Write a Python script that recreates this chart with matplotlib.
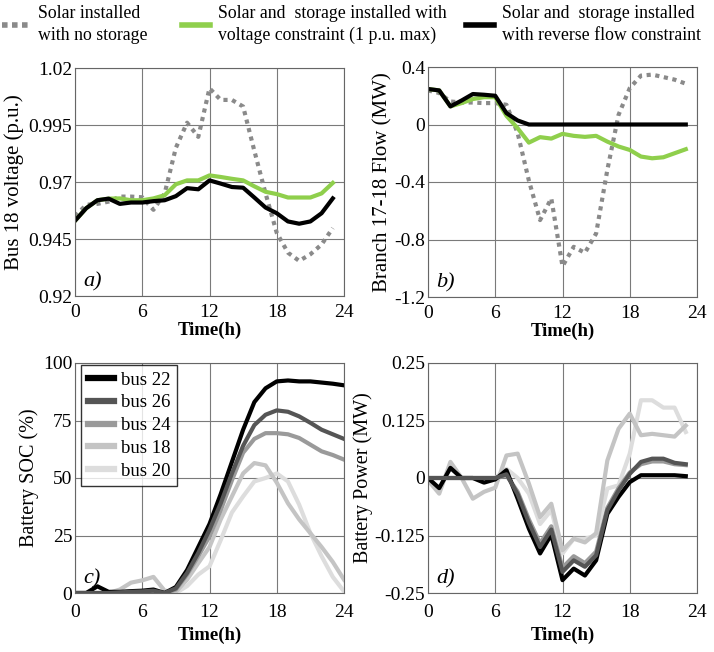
import matplotlib
matplotlib.use("Agg")
import matplotlib.pyplot as plt
from matplotlib.lines import Line2D
from matplotlib.font_manager import FontProperties

plt.rcParams['font.family'] = 'serif'
plt.rcParams['font.serif'] = ['Liberation Serif', 'DejaVu Serif']

hours = list(range(24))
hours_c = list(range(25))

# Panel a: Bus 18 voltage (p.u.)
v_nostorage = [0.955, 0.960, 0.9604, 0.9614, 0.9636, 0.9636, 0.9633, 0.9578, 0.965, 0.985, 0.996, 0.9898,
               1.0111, 1.006, 1.006, 1.0031, 0.9837, 0.965, 0.9477, 0.939, 0.9354, 0.9383, 0.9426, 0.9498]
v_voltage = [0.953, 0.9585, 0.962, 0.9627, 0.9628, 0.962, 0.962, 0.9628, 0.9642, 0.969, 0.9707, 0.9707,
             0.9729, 0.9722, 0.9714, 0.9707, 0.9681, 0.9657, 0.9647, 0.9632, 0.9632, 0.9632, 0.965, 0.9696]
v_reverse = [0.953, 0.9585, 0.962, 0.9627, 0.9604, 0.961, 0.961, 0.9616, 0.962, 0.9638, 0.9673, 0.9668,
             0.9707, 0.9693, 0.9678, 0.9675, 0.9632, 0.9588, 0.9563, 0.9527, 0.9517, 0.9527, 0.9563, 0.9628]

# Panel b: Branch 17-18 flow (MW)
f_nostorage = [0.237, 0.219, 0.16, 0.153, 0.153, 0.149, 0.149, 0.137, -0.06, -0.39, -0.665, -0.514,
               -0.986, -0.851, -0.893, -0.758, -0.316, 0.067, 0.253, 0.34, 0.347, 0.33, 0.312, 0.284]
f_voltage = [0.247, 0.237, 0.126, 0.149, 0.177, 0.19, 0.19, 0.06, -0.026, -0.126, -0.088, -0.098,
             -0.065, -0.079, -0.086, -0.079, -0.119, -0.153, -0.177, -0.223, -0.235, -0.228, -0.2, -0.172]
f_reverse = [0.247, 0.237, 0.126, 0.167, 0.212, 0.207, 0.2, 0.079, 0.028, 0.0, 0.0, 0.0,
             0.0, 0.0, 0.0, 0.0, 0.0, 0.0, 0.0, 0.0, 0.0, 0.0, 0.0, 0.0]

# Panel c: Battery SOC (%)
bus_names = ['bus 22', 'bus 26', 'bus 24', 'bus 18', 'bus 20']
bus_colors = ['#000000', '#555555', '#9a9a9a', '#c4c4c4', '#dddddd']
soc_22 = [0, 0, 2.9, 0.5, 0.5, 0.8, 1, 1.5, 0, 2.6, 10, 20, 30, 43, 57, 71, 83, 89, 92, 92.4, 92, 92, 91.5, 91, 90.3]
soc_26 = [0, 0, 0, 0, 0.3, 0.5, 0.7, 1, 0, 2, 8.7, 17.4, 27.5, 39, 52, 64, 73, 77.5, 79.4, 78.8, 76.8, 74, 71, 69, 67]
soc_24 = [0, 0, 0, 0, 0.3, 0.5, 0.7, 1, 0, 1.5, 8, 16, 24.6, 36, 49, 61, 67, 69.5, 69.5, 69, 67.4, 64.5, 61.6, 60, 58]
soc_18 = [0, 0, 0, 0, 1.5, 4.5, 5.5, 7, 1, 0.5, 5.8, 13, 20, 32, 42, 52, 56.5, 55.5, 48, 39, 32, 26, 20, 13.5, 5.8]
soc_20 = [0, 0, 0, 0, 0, 0, 0, 0, 0, 0, 3, 8, 11.6, 23, 35, 42, 48.5, 50, 52, 48.5, 38.4, 26, 16, 7, 0.7]

# Panel d: Battery power (MW)
p_22 = [0, -0.022, 0.022, 0, 0, -0.01, -0.003, 0.017, -0.045, -0.11, -0.164, -0.123,
        -0.222, -0.197, -0.212, -0.179, -0.078, -0.041, -0.009, 0.006, 0.006, 0.006, 0.006, 0.004]
p_26 = [0, 0, 0, 0, 0, 0, 0, 0.008, -0.035, -0.097, -0.15, -0.112,
        -0.204, -0.179, -0.193, -0.168, -0.07, -0.027, 0.009, 0.035, 0.042, 0.042, 0.033, 0.03]
p_24 = [0, 0, 0, 0, 0, 0, 0, 0.006, -0.03, -0.09, -0.142, -0.105,
        -0.195, -0.17, -0.185, -0.16, -0.065, -0.022, 0.012, 0.03, 0.036, 0.036, 0.03, 0.028]
p_18 = [-0.005, -0.034, 0.035, 0, -0.045, -0.03, -0.021, 0.049, 0.053, -0.012, -0.085, -0.056,
        -0.157, -0.132, -0.14, -0.12, 0.038, 0.107, 0.14, 0.093, 0.096, 0.093, 0.09, 0.114]
p_20 = [0, 0, 0, 0, 0, 0, 0, 0.02, 0, -0.034, -0.1, -0.07,
        -0.164, -0.132, -0.132, -0.125, -0.023, -0.016, 0.053, 0.169, 0.169, 0.153, 0.153, 0.1]

top_labels = ['Solar installed\nwith no storage',
              'Solar and  storage installed with\nvoltage constraint (1 p.u. max)',
              'Solar and  storage installed\nwith reverse flow constraint']

W, H = 714, 652
fig = plt.figure(figsize=(W / 100, H / 100), dpi=100)
SERIF = 'Liberation Serif'


def ax_at(l, t, r, b):
    return fig.add_axes([l / W, 1 - b / H, (r - l) / W, (b - t) / H])


axa = ax_at(75, 68, 344, 296)
axb = ax_at(428, 67, 697, 297)
axc = ax_at(75, 363, 344, 593)
axd = ax_at(428, 363, 697, 593)

green = '#8fcf4c'
dot_gray = '#8a8a8a'
LW = 3.0
TICK_FS = 14

for ax, xpad, lpad in ((axa, 6, 0), (axb, 6, 0), (axc, 8, 4), (axd, 8, 4)):
    ax.set_xlim(0, 24)
    ax.set_xticks([0, 6, 12, 18, 24])
    ax.set_xticklabels(['0', '6', '12', '18', '24'], fontfamily=SERIF, fontsize=TICK_FS)
    ax.grid(True, color='#7a7a7a', lw=0.8)
    ax.set_axisbelow(True)
    ax.tick_params(axis='both', length=0)
    ax.tick_params(axis='x', pad=xpad)
    ax.tick_params(axis='y', pad=2)
    for s in ax.spines.values():
        s.set_color('#666666')
        s.set_linewidth(0.8)
    ax.set_xlabel('Time(h)', fontsize=13.5, fontweight='bold', labelpad=lpad, fontfamily=SERIF)

# a
axa.plot(hours, v_nostorage, color=dot_gray, lw=LW, ls=(0, (1, 1.1)))
axa.plot(hours, v_voltage, color=green, lw=LW)
axa.plot(hours, v_reverse, color='black', lw=LW)
axa.set_ylim(0.92, 1.02)
axa.set_yticks([0.92, 0.945, 0.97, 0.995, 1.02])
axa.set_yticklabels(['0.92', '0.945', '0.97', '0.995', '1.02'], fontfamily=SERIF, fontsize=TICK_FS)
axa.set_ylabel('Bus 18 voltage (p.u.)', fontsize=15, labelpad=3, fontfamily=SERIF)
axa.text(0.03, 0.04, 'a)', transform=axa.transAxes, fontsize=16, style='italic', fontfamily=SERIF)

# b
axb.plot(hours, f_nostorage, color=dot_gray, lw=LW, ls=(0, (1, 1.1)))
axb.plot(hours, f_voltage, color=green, lw=LW)
axb.plot(hours, f_reverse, color='black', lw=LW)
axb.set_ylim(-1.2, 0.4)
axb.set_yticks([-1.2, -0.8, -0.4, 0, 0.4])
axb.set_yticklabels(['-1.2', '-0.8', '-0.4', '0', '0.4'], fontfamily=SERIF, fontsize=TICK_FS)
axb.set_ylabel('Branch 17-18 Flow (MW)', fontsize=15, labelpad=1, fontfamily=SERIF)
axb.text(0.03, 0.04, 'b)', transform=axb.transAxes, fontsize=16, style='italic', fontfamily=SERIF)

# c
soc_all = [soc_22, soc_26, soc_24, soc_18, soc_20]
order = [4, 3, 2, 0, 1]
handles = {}
for i in order:
    ln, = axc.plot(hours_c, soc_all[i], color=bus_colors[i], lw=LW, label=bus_names[i])
    handles[i] = ln
axc.set_ylim(0, 100)
axc.set_yticks([0, 25, 50, 75, 100])
axc.set_yticklabels(['0', '25', '50', '75', '100'], fontfamily=SERIF, fontsize=TICK_FS)
axc.set_ylabel('Battery SOC (%)', fontsize=14.5, labelpad=3, fontfamily=SERIF)
axc.text(0.03, 0.04, 'c)', transform=axc.transAxes, fontsize=16, style='italic', fontfamily=SERIF)
leg = axc.legend([handles[i] for i in range(5)], bus_names, loc='upper left',
                 prop=FontProperties(family=SERIF, size=13.5),
                 frameon=True, fancybox=False, edgecolor='black', handlelength=1.4,
                 handletextpad=0.4, borderpad=0.35, labelspacing=0.3,
                 bbox_to_anchor=(6 / 269, 228 / 230), borderaxespad=0.0)
leg.get_frame().set_linewidth(1.0)
for lh in leg.get_lines():
    lh.set_linewidth(4.5)

# d
p_all = [p_22, p_26, p_24, p_18, p_20]
for i in order:
    axd.plot(hours, p_all[i], color=bus_colors[i], lw=LW)
axd.set_ylim(-0.25, 0.25)
axd.set_yticks([-0.25, -0.125, 0, 0.125, 0.25])
axd.set_yticklabels(['-0.25', '-0.125', '0', '0.125', '0.25'], fontfamily=SERIF, fontsize=TICK_FS)
axd.set_ylabel('Battery Power (MW)', fontsize=14.5, labelpad=1, fontfamily=SERIF)
axd.text(0.03, 0.04, 'd)', transform=axd.transAxes, fontsize=16, style='italic', fontfamily=SERIF)

# top legend: three single-entry legends placed at their own positions
top_handles = [
    Line2D([], [], color=dot_gray, lw=4, ls=(0, (1, 0.8))),
    Line2D([], [], color=green, lw=4),
    Line2D([], [], color='black', lw=4),
]
top_x = [2, 182, 466]
for h, lab, x in zip(top_handles, top_labels, top_x):
    lg = fig.legend([h], [lab], loc='upper left', bbox_to_anchor=(x / W, 1 - 5 / H),
                    frameon=False, prop=FontProperties(family=SERIF, size=12.8),
                    handlelength=1.6, handletextpad=0.45, borderaxespad=0.0, borderpad=0.0)
    for t in lg.get_texts():
        t.set_linespacing(1.35)

fig.savefig('out.png', dpi=100)
